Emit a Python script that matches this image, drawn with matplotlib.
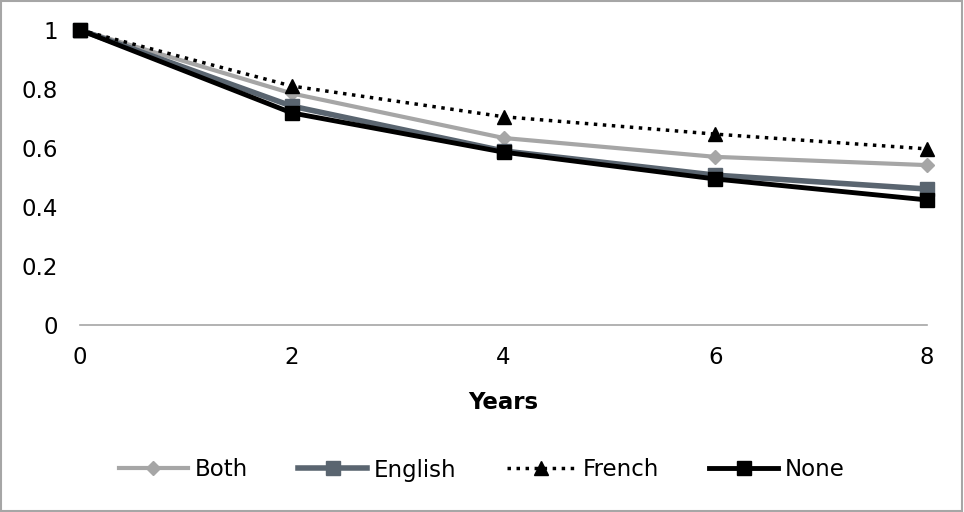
import matplotlib
matplotlib.use("Agg")
import matplotlib.pyplot as plt
from matplotlib.patches import Rectangle

years = [0, 2, 4, 6, 8]
both = [1.0, 0.785, 0.634, 0.570, 0.542]
english = [1.0, 0.742, 0.590, 0.508, 0.461]
french = [1.0, 0.810, 0.706, 0.647, 0.597]
none_ = [1.0, 0.719, 0.586, 0.495, 0.424]

plt.rcParams['font.family'] = ['DejaVu Sans']
fig = plt.figure(figsize=(9.64, 5.12), dpi=100)
W, H = 964, 512
ax = fig.add_axes([80 / W, 1 - 325 / H, (927 - 80) / W, (325 - 30) / H])

ax.plot(years, both, color='#a6a6a6', lw=3, marker='D', ms=7.5, label='Both', clip_on=False, zorder=3)
ax.plot(years, english, color='#5a6570', lw=4, marker='s', ms=9.5, label='English', clip_on=False, zorder=4)
ax.plot(years, french, color='black', lw=2.5, ls=(0, (1, 1.6)), marker='^', ms=10.5, label='French', clip_on=False, zorder=5)
ax.plot(years, none_, color='black', lw=3.5, marker='s', ms=9.5, label='None', clip_on=False, zorder=6)

ax.set_xlim(0, 8)
ax.set_ylim(0, 1)
ax.set_xticks([0, 2, 4, 6, 8])
ax.set_yticks([0, 0.2, 0.4, 0.6, 0.8, 1])
ax.set_yticklabels(['0', '0.2', '0.4', '0.6', '0.8', '1'])
for s in ['top', 'right', 'left']:
    ax.spines[s].set_visible(False)
ax.spines['bottom'].set_color('#a6a6a6')
ax.spines['bottom'].set_linewidth(1.2)
ax.tick_params(axis='both', length=0, labelsize=16.5, colors='black')
ax.tick_params(axis='y', pad=16)
ax.tick_params(axis='x', pad=15)
ax.set_xlabel('Years', fontsize=16.5, fontweight='bold', labelpad=16)

fig.legend(loc='center', bbox_to_anchor=(0.5, 1 - 470 / H), ncol=4, frameon=False,
           fontsize=16.5, handlelength=3.0, columnspacing=2.2, handletextpad=0.3)

fig.patches.append(Rectangle((0.001, 0.002), 0.997, 0.996, transform=fig.transFigure,
                             fill=False, edgecolor='#a6a6a6', lw=1.5))
fig.savefig('out.png', dpi=100)
